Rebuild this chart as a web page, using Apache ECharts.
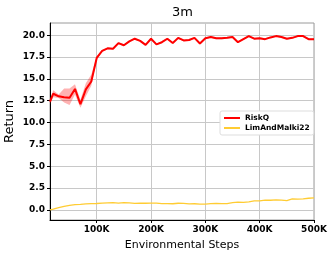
<!DOCTYPE html>
<html><head><meta charset="utf-8">
<script src="https://cdn.jsdelivr.net/npm/echarts@6/dist/echarts.min.js"></script>
<style>html,body{margin:0;padding:0;background:#fff}#c{width:332px;height:256px}</style>
</head><body><div id="c"></div>
<script>
const steps = [14000,20000,30000,40000,50000,60000,70000,80000,90000,100000,110000,120000,130000,140000,150000,160000,170000,180000,190000,200000,210000,220000,230000,240000,250000,260000,270000,280000,290000,300000,310000,320000,330000,340000,350000,360000,370000,380000,390000,400000,410000,420000,430000,440000,450000,460000,470000,480000,490000,500000];
const riskq = [12.4,13.3,13.0,12.9,12.85,13.85,12.1,13.8,14.7,17.4,18.2,18.5,18.45,19.1,18.85,19.3,19.6,19.35,18.9,19.6,18.95,19.2,19.6,19.1,19.7,19.4,19.45,19.7,19.05,19.65,19.8,19.65,19.65,19.7,19.8,19.2,19.55,19.9,19.6,19.65,19.55,19.75,19.9,19.8,19.6,19.7,19.9,19.9,19.55,19.55];
const riskqLow = [12.1,12.9,12.8,12.3,12.0,13.2,11.7,13.0,14.2,17.2,18.1,18.4,18.35,19.0,18.75,19.2,19.5,19.25,18.8,19.5,18.85,19.1,19.5,19.0,19.6,19.3,19.35,19.6,18.95,19.55,19.7,19.55,19.55,19.6,19.7,19.1,19.45,19.8,19.5,19.55,19.45,19.65,19.8,19.7,19.5,19.6,19.8,19.8,19.45,19.45];
const riskqHigh = [12.7,13.7,13.2,13.9,13.9,14.4,12.6,14.5,15.5,17.6,18.3,18.6,18.55,19.2,18.95,19.4,19.7,19.45,19.0,19.7,19.05,19.3,19.7,19.2,19.8,19.5,19.55,19.8,19.15,19.75,19.9,19.75,19.75,19.8,19.9,19.3,19.65,20.0,19.7,19.75,19.65,19.85,20.0,19.9,19.7,19.8,20.0,20.0,19.65,19.65];
const limAndMalki = [0.0,0.08,0.25,0.4,0.52,0.6,0.63,0.68,0.72,0.73,0.78,0.8,0.82,0.78,0.82,0.8,0.74,0.76,0.76,0.78,0.77,0.72,0.72,0.7,0.76,0.74,0.68,0.7,0.66,0.66,0.72,0.74,0.72,0.72,0.82,0.88,0.86,0.92,1.02,1.04,1.12,1.1,1.15,1.12,1.05,1.25,1.22,1.25,1.33,1.38];
const xTicks = [100000,200000,300000,400000,500000];
const yTicks = [0,2.5,5,7.5,10,12.5,15,17.5,20];
const seriesNames = ['RiskQ','LimAndMalki22'];

const chart = echarts.init(document.getElementById('c'), null, {renderer:'canvas'});
const font = 'DejaVu Sans';
chart.setOption({
  animation:false,
  title:{text:'3m', left:167, top:1,
    textStyle:{fontFamily:font, fontSize:13, fontWeight:'normal', color:'#000'}},
  grid:{left:50, right:18, top:23, bottom:36, containLabel:false, outerBoundsMode:'none',
    show:true, borderColor:'#9a9a9a', borderWidth:1},
  legend:{orient:'vertical', left:220, top:111, padding:[3,4,3,4], itemGap:2,
    itemWidth:16, itemHeight:2, backgroundColor:'#fff', borderColor:'#dddddd', borderWidth:1, borderRadius:2,
    textStyle:{fontFamily:font, fontSize:7.5, fontWeight:'bold', color:'#000', padding:[0,0,0,0]},
    data:[{name:seriesNames[0], icon:'rect'},{name:seriesNames[1], icon:'rect'}]},
  xAxis:{type:'value', min:14000, max:500000,
    name:'Environmental Steps', nameLocation:'middle', nameGap:20, nameMoveOverlap:false,
    nameTextStyle:{fontFamily:font, fontSize:11, color:'#000'},
    axisLine:{show:true, onZero:false, lineStyle:{color:'#000', width:1}},
    axisTick:{show:true, length:3, customValues:xTicks, lineStyle:{color:'#000'}},
    axisLabel:{customValues:xTicks, margin:5, fontFamily:font, fontSize:9, fontWeight:'bold', color:'#000',
      formatter:v=>(v/1000)+'K'},
    splitLine:{show:true, lineStyle:{color:'#c8c8c8', width:1}}},
  yAxis:{type:'value', min:-1.16, max:21.4,
    name:'Return', nameLocation:'middle', nameGap:34, nameRotate:90, nameMoveOverlap:false,
    nameTextStyle:{fontFamily:font, fontSize:13, color:'#000'},
    axisLine:{show:true, onZero:false, lineStyle:{color:'#000', width:1}},
    axisTick:{show:true, length:3, customValues:yTicks, lineStyle:{color:'#000'}},
    axisLabel:{customValues:yTicks, margin:5, fontFamily:font, fontSize:9, fontWeight:'bold', color:'#000',
      formatter:v=>v.toFixed(1)},
    splitLine:{show:true, lineStyle:{color:'#c8c8c8', width:1}}},
  series:[
    {type:'custom', name:'band', silent:true, z:1, data:[0],
     renderItem:function(params, api){
       const pts=[];
       for(let i=0;i<steps.length;i++) pts.push(api.coord([steps[i], riskqHigh[i]]));
       for(let i=steps.length-1;i>=0;i--) pts.push(api.coord([steps[i], riskqLow[i]]));
       return {type:'polygon', shape:{points:pts}, style:{fill:'rgba(255,0,0,0.3)', stroke:null}};
     }},
    {type:'line', name:seriesNames[0], data:steps.map((s,i)=>[s,riskq[i]]), showSymbol:false, z:3,
     itemStyle:{color:'#ff0000'}, lineStyle:{color:'#ff0000', width:2}},
    {type:'line', name:seriesNames[1], data:steps.map((s,i)=>[s,limAndMalki[i]]), showSymbol:false, z:2,
     itemStyle:{color:'#ffcc33'}, lineStyle:{color:'#ffcc33', width:1.3}}
  ]
});
</script></body></html>
